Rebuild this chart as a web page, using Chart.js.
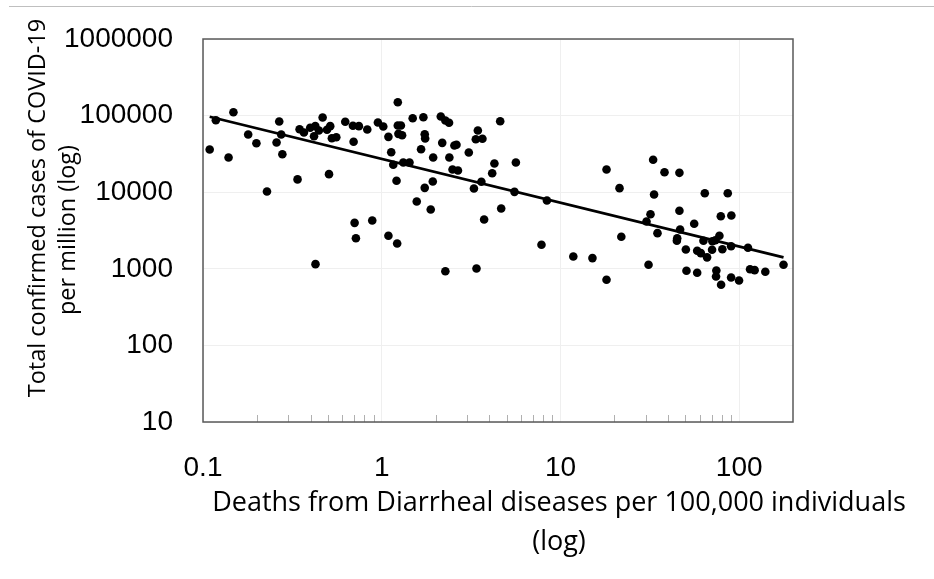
<!DOCTYPE html>
<html>
<head>
<meta charset="utf-8">
<script src="https://cdn.jsdelivr.net/npm/chart.js@4.4.1/dist/chart.umd.min.js"></script>
<style>
  html, body { margin: 0; padding: 0; background: #fff; }
  #wrap { position: relative; width: 934px; height: 579px; }
</style>
</head>
<body>
<div id="wrap"><canvas id="chart" width="934" height="579"></canvas></div>
<script>
// deaths from diarrheal diseases per 100,000 (x) and covid cases per million (y)
const deaths = [0.109,0.118,0.148,0.139,0.179,0.199,0.228,0.267,0.274,0.258,0.278,0.338,0.347,0.367,0.398,0.425,0.418,0.445,0.467,0.494,
  0.515,0.526,0.557,0.507,0.625,0.69,0.745,0.696,0.83,0.952,1.02,1.09,1.13,1.16,1.21,1.23,1.23,1.24,0.705,0.885,
  0.717,1.09,1.22,0.426,1.28,1.3,1.49,1.71,2.14,2.27,2.38,1.74,1.75,1.66,2.18,2.55,2.62,1.94,2.39,3.07,
  3.45,3.36,3.66,4.6,1.32,1.43,2.49,2.67,4.27,4.15,5.63,1.74,1.93,1.57,1.88,3.28,3.61,4.66,3.74,5.53,
  8.4,7.83,11.8,2.27,3.39,15.1,18.1,21.4,33,38.2,46.3,33.4,64.2,86.3,31.9,30.3,46.3,78.9,90.4,56,
  34.9,46.7,45,44.8,77.5,63.1,70.8,73.6,21.9,50.3,58.2,61,66.1,70.5,80.5,90.1,112,31.1,18.1,50.7,
  58.2,74.5,74.2,90.1,99.8,79.2,115,122,140,177];
const cases = [36100,87100,110700,28400,56600,43600,10200,83700,56600,44600,31300,14700,66400,60100,69300,72800,53800,63800,94400,65300,
  72800,50700,52200,17200,83000,73600,72800,45500,65900,81300,72100,52800,33300,22800,14100,149600,74300,57800,3980,4280,
  2510,2700,2140,1150,74300,55500,92500,95300,97300,86300,80500,57100,50200,36400,44100,40700,41600,28400,28400,33000,
  63800,49200,49800,84500,24400,24400,19800,19200,23700,17700,24400,11400,13800,7560,5940,11200,13700,6120,4410,10100,
  7790,2060,1450,931,1010,1380,19800,11300,26500,18200,17900,9330,9700,9700,5160,4140,5720,4860,4960,3870,
  2920,3260,2510,2320,2700,2320,2290,2360,2620,1790,1720,1600,1410,1770,1800,1970,1880,1130,718,942,
  887,950,795,770,703,618,988,960,914,1130];

// power trendline ends
const trendX = [0.109, 177];
const trendY = [96600, 1410];

const xTicks = [0.1, 1, 10, 100];
const xMinorTicks = [0.2,0.3,0.4,0.5,0.6,0.7,0.8,0.9,2,3,4,5,6,7,8,9,20,30,40,50,60,70,80,90];
const yTicks = [10, 100, 1000, 10000, 100000, 1000000];

const xTitle = ['Deaths from Diarrheal diseases per 100,000 individuals', '(log)'];
const yTitle = ['Total confirmed cases of COVID-19', 'per million (log)'];

const points = deaths.map((d, i) => ({ x: d, y: cases[i] }));
const trend = trendX.map((d, i) => ({ x: d, y: trendY[i] }));

const decor = {
  id: 'decor',
  beforeDraw(chart) {
    const c = chart.ctx;
    c.save();
    c.fillStyle = '#fff';
    c.fillRect(0, 0, chart.width, chart.height);
    c.strokeStyle = '#bfbfbf';
    c.lineWidth = 1;
    c.beginPath();
    c.moveTo(9, 6.5);
    c.lineTo(chart.width, 6.5);
    c.stroke();
    c.restore();
  },
  afterDraw(chart) {
    const c = chart.ctx;
    const a = chart.chartArea;
    const xs = chart.scales.x;
    c.save();
    // minor ticks along the bottom, pointing in
    c.strokeStyle = '#b0b0b0';
    c.lineWidth = 1;
    xMinorTicks.forEach(v => {
      const px = Math.round(xs.getPixelForValue(v)) + 0.5;
      c.beginPath();
      c.moveTo(px, a.bottom);
      c.lineTo(px, a.bottom - 7);
      c.stroke();
    });
    // plot frame
    c.strokeStyle = '#595959';
    c.lineWidth = 1.5;
    c.strokeRect(a.left, a.top, a.right - a.left, a.bottom - a.top);

    // axis titles
    c.fillStyle = '#000';
    c.textAlign = 'center';
    c.textBaseline = 'middle';
    c.font = '27px "Open Sans"';
    c.fillText(xTitle[0], 559, 503);
    c.fillText(xTitle[1], 559, 542);
    c.font = '23.5px "Open Sans"';
    c.translate(38, 208);
    c.rotate(-Math.PI / 2);
    c.fillText(yTitle[0], 0, 0);
    c.fillText(yTitle[1], -22, 30);
    c.restore();
  }
};

new Chart(document.getElementById('chart'), {
  type: 'scatter',
  data: {
    datasets: [
      {
        type: 'line',
        label: 'Trend',
        data: trend,
        borderColor: '#000',
        borderWidth: 2.8,
        pointRadius: 0,
        fill: false,
        order: 0
      },
      {
        label: 'Countries',
        data: points,
        backgroundColor: '#000',
        borderWidth: 0,
        pointRadius: 4.3,
        order: 1
      }
    ]
  },
  options: {
    responsive: false,
    animation: false,
    layout: { padding: { left: 0, top: 39, right: 141, bottom: 0 } },
    plugins: { legend: { display: false }, tooltip: { enabled: false } },
    scales: {
      x: {
        type: 'logarithmic',
        min: 0.1,
        max: 200,
        afterBuildTicks: s => { s.ticks = xTicks.map(v => ({ value: v })); },
        afterFit: s => { s.height = 157; s.paddingLeft = 0; s.paddingRight = 0; },
        ticks: {
          autoSkip: false,
          maxRotation: 0,
          padding: 29,
          color: '#000',
          font: { family: 'Liberation Sans', size: 28 },
          callback: v => String(v)
        },
        grid: { color: '#efefef', drawTicks: false },
        border: { display: false }
      },
      y: {
        type: 'logarithmic',
        min: 10,
        max: 1000000,
        afterBuildTicks: s => { s.ticks = yTicks.map(v => ({ value: v })); },
        afterFit: s => { s.width = 203; s.paddingTop = 0; s.paddingBottom = 0; },
        ticks: {
          autoSkip: false,
          padding: 30,
          color: '#000',
          font: { family: 'Liberation Sans', size: 28 },
          callback: v => String(v)
        },
        grid: { color: '#efefef', drawTicks: false },
        border: { display: false }
      }
    }
  },
  plugins: [decor]
});
</script>
</body>
</html>
